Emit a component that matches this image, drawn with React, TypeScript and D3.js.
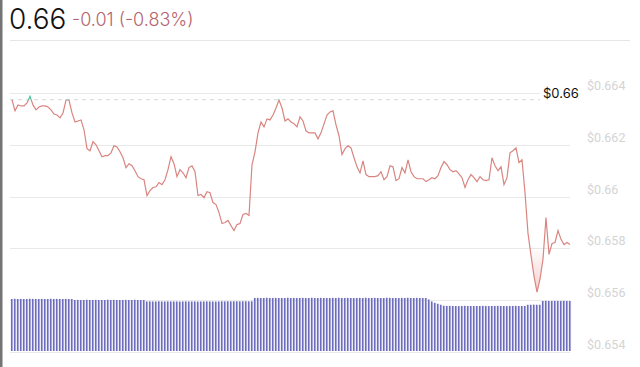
import * as d3 from "d3";
import {useRef, useEffect} from "react";

// price samples, oldest first
const prices = [
  0.66374, 0.66331, 0.66354, 0.6635, 0.6635, 0.66362, 0.66387, 0.66354, 0.66335, 0.66346,
  0.6635, 0.6635, 0.66346, 0.66335, 0.66319, 0.66315, 0.66304, 0.66323, 0.66373, 0.66373,
  0.66323, 0.66288, 0.66292, 0.66296, 0.66258, 0.66185, 0.66177, 0.66212, 0.662, 0.66177,
  0.66154, 0.66158, 0.66158, 0.66169, 0.66196, 0.66192, 0.66173, 0.6615, 0.66112, 0.66127,
  0.66119, 0.661, 0.66077, 0.66069, 0.66065, 0.66004, 0.66023, 0.66035, 0.66038, 0.66054,
  0.66046, 0.66065, 0.66104, 0.66154, 0.66127, 0.66077, 0.66104, 0.66092, 0.66073, 0.66112,
  0.66119, 0.66096, 0.66004, 0.66008, 0.65996, 0.66019, 0.66015, 0.65977, 0.65969, 0.65938,
  0.65896, 0.659, 0.65908, 0.65888, 0.65869, 0.65892, 0.65896, 0.65931, 0.65935, 0.65927,
  0.66123, 0.66173, 0.66246, 0.66288, 0.66269, 0.663, 0.66296, 0.66315, 0.66342, 0.66373,
  0.66342, 0.66292, 0.663, 0.66288, 0.66281, 0.66269, 0.66308, 0.66292, 0.66254, 0.66246,
  0.66246, 0.66246, 0.66223, 0.66246, 0.66281, 0.66315, 0.66327, 0.66331, 0.66277, 0.66235,
  0.66162, 0.66185, 0.66196, 0.66188, 0.6615, 0.66115, 0.66092, 0.66138, 0.66085, 0.66077,
  0.66077, 0.66077, 0.66081, 0.66096, 0.66065, 0.66077, 0.66119, 0.66115, 0.66062, 0.66069,
  0.66112, 0.66092, 0.66142, 0.66096, 0.66077, 0.66069, 0.66069, 0.66069, 0.66058, 0.66065,
  0.66073, 0.66069, 0.66081, 0.66112, 0.66135, 0.66123, 0.66104, 0.66096, 0.661, 0.66088,
  0.66073, 0.66035, 0.66065, 0.66085, 0.66073, 0.66058, 0.66077, 0.66065, 0.66062, 0.66065,
  0.6615, 0.66119, 0.661, 0.66115, 0.66046, 0.66073, 0.66169, 0.66177, 0.66188, 0.66131,
  0.66142, 0.66015, 0.65858, 0.65773, 0.65692, 0.65631, 0.65681, 0.65758, 0.65919, 0.65777,
  0.65819, 0.65823, 0.65869, 0.65835, 0.65815, 0.65823, 0.65815,
];

const volumes = [
  520, 522, 520, 521, 520, 520, 522, 521, 520, 520, 521, 520, 520, 522, 520, 521, 520, 520, 521, 520,
  520, 510, 511, 510, 510, 512, 510, 510, 511, 510, 510, 510, 512, 510, 511, 510, 510, 510, 511, 510,
  510, 512, 510, 510, 510, 495, 496, 495, 495, 497, 495, 495, 496, 495, 495, 495, 494, 495, 496, 495,
  495, 495, 494, 495, 495, 496, 495, 495, 494, 495, 497, 496, 497, 496, 497, 497, 496, 497, 497, 496,
  497, 530, 531, 530, 530, 532, 530, 530, 531, 530, 530, 530, 532, 530, 531, 530, 530, 531, 530, 530,
  532, 530, 530, 531, 530, 530, 530, 531, 530, 532, 530, 530, 531, 530, 530, 530, 531, 530, 532, 530,
  530, 531, 530, 530, 530, 532, 531, 530, 530, 530, 531, 530, 532, 530, 530, 531, 530, 530, 530, 515,
  495, 482, 472, 462, 452, 450, 451, 450, 450, 449, 450, 451, 450, 450, 449, 450, 450, 451, 450, 449,
  450, 450, 451, 450, 450, 449, 450, 450, 451, 450, 450, 450, 462, 462, 463, 462, 462, 500, 501, 500,
  500, 501, 500, 500, 501, 500, 500,
];

const openPrice = 0.66374;
const lastLabel = "$0.66";
const headPrice = "0.66";
const headChange = "-0.01 (-0.83%)";
const priceTicks = [0.654, 0.656, 0.658, 0.66, 0.662, 0.664];

const width = 640;
const height = 367;
const marginLeft = 12;
const plotRight = 570;
const yTop = 93;
const yBottom = 352;

export default function App() {
  const gy = useRef<SVGGElement | null>(null);

  const x = d3.scaleLinear().domain([0, prices.length - 1]).range([marginLeft, plotRight]);
  const y = d3.scaleLinear().domain([0.654, 0.664]).range([yBottom, yTop]);
  const v = d3.scaleLinear().domain([0, 600]).range([351, 291]);

  const line = d3
    .line<number>()
    .x((d, i) => x(i))
    .y((d) => y(d));

  const area = d3
    .area<number>()
    .x((d, i) => x(i))
    .y0(y(openPrice))
    .y1((d) => y(d));

  const base = y(openPrice);

  useEffect(() => {
    if (gy.current) {
      const g = d3.select(gy.current);
      g.selectAll("*").remove();
      g.selectAll("line")
        .data(priceTicks)
        .join("line")
        .attr("x1", 10)
        .attr("x2", (d) => (d === 0.664 ? 540 : plotRight))
        .attr("y1", (d) => Math.round(y(d)) + 0.5)
        .attr("y2", (d) => Math.round(y(d)) + 0.5)
        .attr("stroke", "#e9e9e9")
        .attr("stroke-width", 1);
      g.selectAll("text")
        .data(priceTicks)
        .join("text")
        .attr("x", 587)
        .attr("y", (d) => y(d) - 3)
        .attr("fill", "#d4d4d4")
        .attr("font-size", 12.5)
        .attr("font-family", "Roboto, sans-serif")
        .text((d) => "$" + d3.format(".3~f")(d));
    }
  }, [gy, y]);

  const step = x(1) - x(0);

  return (
    <svg width={width} height={height} style={{position: "absolute", left: 0, top: 0, background: "#fff"}}>
      <defs>
        <clipPath id="above">
          <rect x={0} y={0} width={width} height={base} />
        </clipPath>
        <clipPath id="below">
          <rect x={0} y={base} width={width} height={height - base} />
        </clipPath>
        <linearGradient id="redFill" gradientUnits="userSpaceOnUse" x1={0} y1={246} x2={0} y2={296}>
          <stop offset="0" stopColor="#e06a6a" stopOpacity={0} />
          <stop offset="1" stopColor="#e06a6a" stopOpacity={0.35} />
        </linearGradient>
      </defs>

      <rect x={0} y={0} width={2.5} height={height} fill="#747474" />
      <line x1={10} x2={630} y1={40.5} y2={40.5} stroke="#e6e6e6" />

      <text x={9} y={29} fontFamily="Inter, sans-serif" fontWeight={300} fontSize={28} fill="#111">
        {headPrice}
      </text>
      <text x={72} y={26} fontFamily="Inter, sans-serif" fontWeight={300} fontSize={18} fill="#b4646e">
        {headChange}
      </text>

      <g ref={gy} />

      <line x1={10} x2={540} y1={base} y2={base} stroke="#d6d6d6" strokeDasharray="4,4" />
      <text x={543} y={98} fontFamily="Inter, sans-serif" fontSize={13} fill="#111">
        {lastLabel}
      </text>

      <g>
        {volumes.map((d, i) => (
          <g key={i}>
            <rect x={x(i) - step * 0.35} y={v(d)} width={step * 0.7} height={351 - v(d)} fill="#a6a6db" />
            <rect x={x(i) - step * 0.35} y={v(d)} width={0.55} height={351 - v(d)} fill="#34349e" />
          </g>
        ))}
      </g>

      <path d={area(prices) ?? ""} fill="url(#redFill)" clipPath="url(#below)" />
      <path d={line(prices) ?? ""} fill="none" stroke="#d98580" strokeWidth={1.2} clipPath="url(#below)" />
      <path d={line(prices) ?? ""} fill="none" stroke="#47c2a0" strokeWidth={1.2} clipPath="url(#above)" />
    </svg>
  );
}
